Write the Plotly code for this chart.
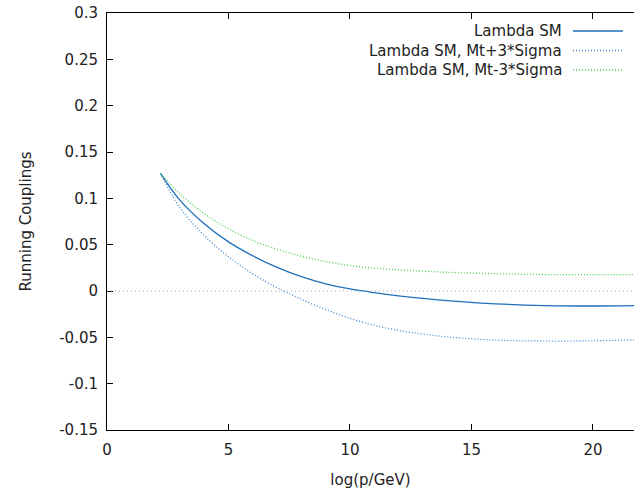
import plotly.graph_objects as go

# log(p/GeV) sample points
log_p = [2.2, 3, 4, 5, 6, 7, 8, 9, 10, 11, 12, 13, 14, 16, 18, 20, 21.7]

lambda_sm = [0.127, 0.098, 0.0725, 0.053, 0.038, 0.0255, 0.0155, 0.0078, 0.0022,
             -0.0018, -0.0052, -0.0080, -0.0103, -0.0138, -0.0157, -0.0162, -0.0157]
lambda_plus = [0.127, 0.090, 0.060, 0.037, 0.0185, 0.0035, -0.009, -0.020, -0.0295,
               -0.037, -0.0425, -0.0465, -0.0495, -0.053, -0.054, -0.0538, -0.0528]
lambda_minus = [0.127, 0.105, 0.0835, 0.067, 0.0545, 0.045, 0.0375, 0.0318, 0.0275,
                0.0247, 0.0228, 0.0214, 0.0202, 0.0186, 0.0178, 0.0176, 0.0178]

names = ['Lambda SM', 'Lambda SM, Mt+3*Sigma', 'Lambda SM, Mt-3*Sigma']
colors = ['#1f6fba', '#3a86d4', '#48cf48']
dashes = ['solid', '1px,2px', '1px,2px']

x_ticks = [0, 5, 10, 15, 20]
y_ticks = [0.3, 0.25, 0.2, 0.15, 0.1, 0.05, 0, -0.05, -0.1, -0.15]

font = dict(family='DejaVu Sans', size=15, color='#222')

fig = go.Figure()
for name, ys, col, dash in zip(names, [lambda_sm, lambda_plus, lambda_minus], colors, dashes):
    fig.add_trace(go.Scatter(
        x=log_p, y=ys, name=name, mode='lines',
        line=dict(color=col, width=1.3, dash=dash, shape='spline'),
    ))

# zero axis, gnuplot style
fig.add_shape(type='line', xref='paper', yref='y', x0=0, x1=1, y0=0, y1=0,
              line=dict(color='#aaaaaa', width=1, dash='1px,3px'))

# legend drawn like gnuplot: text right aligned, sample on the right
for i, (name, col, dash) in enumerate(zip(names, colors, dashes)):
    ypix = 31 + i * 19.5
    yp = 1 - (ypix - 13) / 417
    fig.add_annotation(text=name, xref='paper', yref='paper', x=(564 - 107) / 527, y=yp,
                       xanchor='right', yanchor='middle', showarrow=False,
                       font=dict(family='DejaVu Sans', size=15, color='#222'))
    fig.add_shape(type='line', xref='paper', yref='paper',
                  x0=(573 - 107) / 527, x1=(623 - 107) / 527, y0=yp, y1=yp,
                  line=dict(color=col, width=1.3, dash=dash))

fig.update_layout(
    width=634,
    height=491,
    margin=dict(l=107, r=0, t=13, b=61, autoexpand=False),
    plot_bgcolor='white',
    paper_bgcolor='white',
    showlegend=False,
    font=font,
    xaxis=dict(
        range=[0, 21.69],
        tickvals=x_ticks,
        ticks='inside', ticklen=6, tickcolor='black',
        showline=True, linecolor='black', linewidth=1, mirror='ticks',
        showgrid=False, zeroline=False, automargin=False,
        ticklabelstandoff=6,
        title=dict(text='log(p/GeV)', standoff=16, font=dict(size=15)),
        tickfont=font,
    ),
    yaxis=dict(
        range=[-0.15, 0.3],
        tickvals=y_ticks,
        ticktext=[f'{v:g}' for v in y_ticks],
        ticks='inside', ticklen=6, tickcolor='black',
        showline=True, linecolor='black', linewidth=1,
        showgrid=False, zeroline=False, automargin=False,
        ticklabelstandoff=5,
        title=dict(text='Running Couplings', standoff=23, font=dict(size=15)),
        tickfont=font,
    ),
)

fig.write_html('out.html', config={'displayModeBar': False},
               post_script="document.body.style.margin='0';")
